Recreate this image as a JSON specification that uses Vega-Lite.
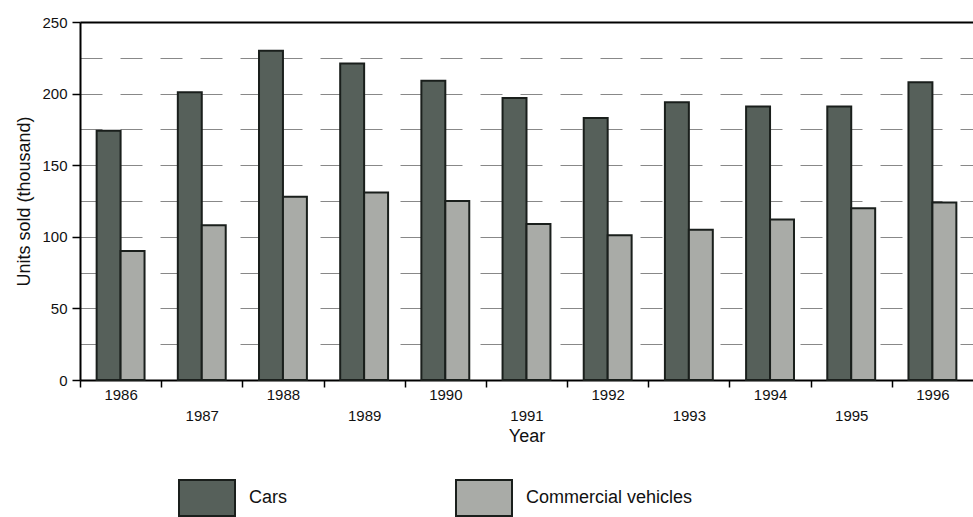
{
  "$schema": "https://vega.github.io/schema/vega-lite/v6.json",
  "width": 893,
  "height": 358,
  "autosize": {"type": "none"},
  "padding": {"left": 80, "top": 22, "right": 0, "bottom": 137},
  "background": "white",
  "config": {"font": "Liberation Sans", "view": {"stroke": null}},
  "data": {
    "values": [
      {"year": 1986, "type": "Cars", "units": 174},
      {"year": 1986, "type": "Commercial vehicles", "units": 90},
      {"year": 1987, "type": "Cars", "units": 201},
      {"year": 1987, "type": "Commercial vehicles", "units": 108},
      {"year": 1988, "type": "Cars", "units": 230},
      {"year": 1988, "type": "Commercial vehicles", "units": 128},
      {"year": 1989, "type": "Cars", "units": 221},
      {"year": 1989, "type": "Commercial vehicles", "units": 131},
      {"year": 1990, "type": "Cars", "units": 209},
      {"year": 1990, "type": "Commercial vehicles", "units": 125},
      {"year": 1991, "type": "Cars", "units": 197},
      {"year": 1991, "type": "Commercial vehicles", "units": 109},
      {"year": 1992, "type": "Cars", "units": 183},
      {"year": 1992, "type": "Commercial vehicles", "units": 101},
      {"year": 1993, "type": "Cars", "units": 194},
      {"year": 1993, "type": "Commercial vehicles", "units": 105},
      {"year": 1994, "type": "Cars", "units": 191},
      {"year": 1994, "type": "Commercial vehicles", "units": 112},
      {"year": 1995, "type": "Cars", "units": 191},
      {"year": 1995, "type": "Commercial vehicles", "units": 120},
      {"year": 1996, "type": "Cars", "units": 208},
      {"year": 1996, "type": "Commercial vehicles", "units": 124}
    ]
  },
  "mark": {"type": "bar", "stroke": "#1a1f1c", "strokeWidth": 2},
  "encoding": {
    "x": {
      "field": "year",
      "type": "ordinal",
      "scale": {"paddingInner": 0.41, "paddingOuter": 0.205},
      "axis": {
        "title": "Year",
        "titleFontSize": 18,
        "titleFontWeight": "normal",
        "titleColor": "#111",
        "titlePadding": 4,
        "labelAngle": 0,
        "labelFontSize": 15,
        "labelColor": "#111",
        "labelPadding": {"condition": {"test": "datum.value % 2 == 1", "value": 21}, "value": 0},
        "tickOffset": -40.6,
        "labelOffset": 40.6,
        "tickSize": 7,
        "tickColor": "black",
        "tickWidth": 1.5,
        "domainColor": "black",
        "domainWidth": 2
      }
    },
    "xOffset": {"field": "type", "type": "nominal", "sort": ["Cars", "Commercial vehicles"]},
    "y": {
      "field": "units",
      "type": "quantitative",
      "scale": {"domain": [0, 250]},
      "axis": {
        "title": "Units sold (thousand)",
        "titleFontSize": 18,
        "titleFontWeight": "normal",
        "titleColor": "#111",
        "titlePadding": 8,
        "values": [0, 25, 50, 75, 100, 125, 150, 175, 200, 225, 250],
        "labelExpr": "datum.value % 50 == 0 ? datum.label : ''",
        "labelFontSize": 15,
        "labelColor": "#111",
        "labelPadding": 5,
        "tickSize": 8,
        "tickColor": "black",
        "tickWidth": 1.5,
        "tickOpacity": {"condition": {"test": "datum.value % 50 == 0", "value": 1}, "value": 0},
        "domainColor": "black",
        "domainWidth": 2,
        "grid": true,
        "gridColor": {"condition": {"test": "datum.value == 250", "value": "black"}, "value": "#888"},
        "gridWidth": {"condition": {"test": "datum.value == 250", "value": 2}, "value": 1},
        "gridDash": {"condition": {"test": "datum.value == 250", "value": []}, "value": [22, 18]}
      }
    },
    "fill": {
      "field": "type",
      "type": "nominal",
      "scale": {"domain": ["Cars", "Commercial vehicles"], "range": ["#56605a", "#a9aba7"]},
      "legend": {
        "title": null,
        "orient": "none",
        "legendX": 98,
        "legendY": 447,
        "direction": "horizontal",
        "columnPadding": 164,
        "symbolType": "M-1,-0.64H1V0.64H-1Z",
        "symbolSize": 3136,
        "symbolStrokeColor": "#1a1f1c",
        "symbolStrokeWidth": 2,
        "symbolOpacity": 1,
        "labelFontSize": 18,
        "labelLimit": 400,
        "labelColor": "#111",
        "labelOffset": 13
      }
    }
  }
}
